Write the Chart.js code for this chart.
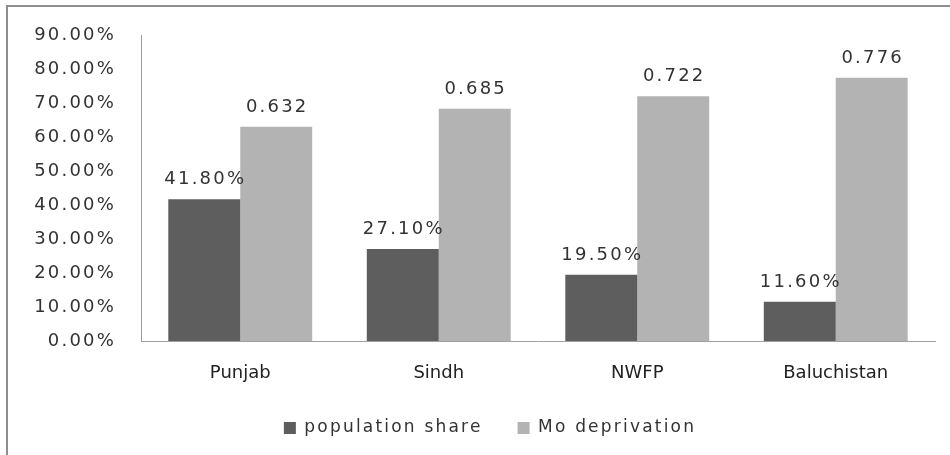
<!DOCTYPE html>
<html>
<head>
<meta charset="utf-8">
<script src="https://cdn.jsdelivr.net/npm/chart.js@4.4.1/dist/chart.umd.min.js"></script>
<style>
  html, body { margin: 0; padding: 0; background: #ffffff; overflow: hidden; }
  #wrap { position: relative; width: 950px; height: 455px; }
  #frame { position: absolute; left: 6px; top: 5px; right: 0; bottom: 0;
           border-top: 2px solid #8e8e8e; border-left: 2px solid #8e8e8e; pointer-events: none; }
  canvas { position: absolute; left: 0; top: 0; }
</style>
</head>
<body>
<div id="wrap">
  <canvas id="c" width="950" height="455"></canvas>
  <div id="frame"></div>
</div>
<script>
const categories = ['Punjab', 'Sindh', 'NWFP', 'Baluchistan'];
const seriesNames = ['population share', 'Mo deprivation'];
const populationShare = [0.418, 0.271, 0.195, 0.116];
const moDeprivation = [0.632, 0.685, 0.722, 0.776];
const yMin = 0;
const yMax = 0.9;
const yStep = 0.1;

const DARK = '#5e5e5e';
const LIGHT = '#b3b3b3';
const FONT = '"DejaVu Sans", Verdana, sans-serif';
const SPACING = '2.2px';

const fmtPct = v => (v * 100).toFixed(2) + '%';
const fmtNum = v => v.toFixed(3);
const labelFormatters = [fmtPct, fmtNum];

function wrapDraw(obj, spacing, dx) {
  if (!obj || obj.__wrapped) return;
  const orig = obj.draw;
  obj.draw = function (...args) {
    const ctx = this.ctx;
    ctx.save();
    ctx.letterSpacing = spacing;
    ctx.translate(dx, 0);
    orig.apply(this, args);
    ctx.restore();
  };
  obj.__wrapped = true;
}

const spacingPlugin = {
  id: 'spacing',
  beforeLayout(chart) {
    chart.ctx.letterSpacing = SPACING;
    wrapDraw(chart.scales.x, '0px', 0);
    wrapDraw(chart.legend, SPACING, 7.5);
  },
  beforeDraw(chart) {
    chart.ctx.letterSpacing = SPACING;
    wrapDraw(chart.scales.x, '0px', 0);
    wrapDraw(chart.legend, SPACING, 7.5);
  }
};

const valueLabels = {
  id: 'valueLabels',
  afterDatasetsDraw(chart) {
    const ctx = chart.ctx;
    ctx.save();
    ctx.letterSpacing = SPACING;
    ctx.font = '18px ' + FONT;
    ctx.fillStyle = '#333333';
    ctx.textAlign = 'center';
    ctx.textBaseline = 'alphabetic';
    chart.data.datasets.forEach((ds, i) => {
      chart.getDatasetMeta(i).data.forEach((bar, j) => {
        ctx.fillText(labelFormatters[i](ds.data[j]), bar.x + 1, bar.y - 15);
      });
    });
    ctx.restore();
  }
};

new Chart(document.getElementById('c'), {
  type: 'bar',
  data: {
    labels: categories,
    datasets: [
      { label: seriesNames[0], data: populationShare, backgroundColor: DARK, borderWidth: 0,
        categoryPercentage: 0.725, barPercentage: 1.0 },
      { label: seriesNames[1], data: moDeprivation, backgroundColor: LIGHT, borderWidth: 0,
        categoryPercentage: 0.725, barPercentage: 1.0 }
    ]
  },
  options: {
    responsive: false,
    animation: false,
    layout: { padding: { left: 30, right: 15, top: 29, bottom: 8.5 } },
    plugins: {
      legend: {
        position: 'bottom',
        labels: {
          boxWidth: 12, boxHeight: 12, padding: 35,
          color: '#333333',
          font: { family: FONT, size: 17 }
        }
      },
      tooltip: { enabled: false }
    },
    scales: {
      x: {
        grid: { display: false, drawTicks: false },
        border: { display: true, color: '#a0a0a0', width: 1 },
        ticks: { color: '#222222', padding: 22, font: { family: FONT, size: 18 } },
        afterFit(scale) { scale.height = 43.5; }
      },
      y: {
        min: yMin, max: yMax,
        grid: { display: false, drawTicks: false },
        border: { display: true, color: '#999999', width: 1 },
        ticks: { stepSize: yStep, color: '#333333', padding: 25,
                 font: { family: FONT, size: 18 },
                 callback: v => fmtPct(v) },
        afterFit(scale) { scale.width = 111; }
      }
    }
  },
  plugins: [spacingPlugin, valueLabels]
});
</script>
</body>
</html>
